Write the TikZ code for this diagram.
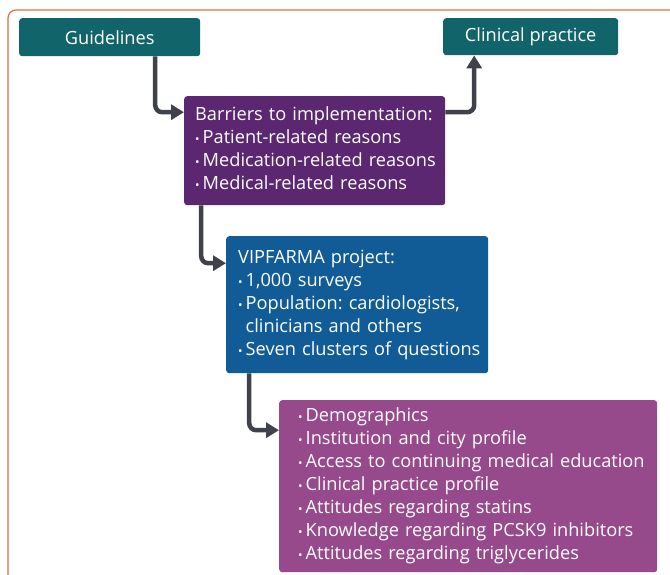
\documentclass[tikz,border=0pt]{standalone}
\usepackage{fontspec}
\setmainfont{Open Sans}
\usepackage{tikz}
\usetikzlibrary{arrows.meta}
\definecolor{frameC}{RGB}{228, 110, 60}
\definecolor{tealC}{RGB}{17, 100, 106}
\definecolor{plumC}{RGB}{91, 39, 112}
\definecolor{blueC}{RGB}{17, 92, 150}
\definecolor{mauveC}{RGB}{150, 74, 140}
\definecolor{linkC}{RGB}{64, 66, 75}
\newcommand{\bul}{{\fontsize{12}{12}\selectfont\textbullet}\kern3pt}
\frenchspacing

\begin{document}
\begin{tikzpicture}[
  x=1pt, y=-1pt,
  box/.style={rounded corners=3pt, text=white, anchor=north west,
              font=\fontsize{18.2}{23}\selectfont, inner ysep=0pt},
  listbox/.style={box, inner xsep=0pt, align=left},
  conn/.style={draw=linkC, line width=4.5pt, rounded corners=7pt,
               -{Triangle[length=13pt, width=15pt]}}
]
  \useasboundingbox (0,0) rectangle (670,574);
  \draw[frameC, line width=1.2pt, rounded corners=8pt] (8,10) rectangle (700,610);

  \node[box, fill=tealC, minimum width=181pt, minimum height=38pt, align=center] (guide)
    at (19,18) {Guidelines};
  \node[box, fill=tealC, minimum width=175pt, minimum height=37pt, align=center] (clin)
    at (443,18) {Clinical practice};
  \node[listbox, fill=plumC, text width=261pt, minimum height=109pt] (barr)
    at (184,96) {\hspace*{11pt}\begin{tabular}{@{}l@{}}
      Barriers to implementation:\\
      \bul Patient-related reasons\\
      \bul Medication-related reasons\\
      \bul Medical-related reasons\end{tabular}};
  \node[listbox, fill=blueC, text width=262pt, minimum height=137pt] (vip)
    at (226,236) {\hspace*{12pt}\begin{tabular}{@{}l@{}}
      VIPFARMA project:\\
      \bul 1,000 surveys\\
      \bul Population: cardiologists,\\
      \phantom{\bul}clinicians and others\\
      \bul Seven clusters of questions\end{tabular}};
  \node[listbox, fill=mauveC, text width=378pt, minimum height=172pt] (clus)
    at (279,400) {\hspace*{19pt}\begin{tabular}{@{}l@{}}
      \bul Demographics\\
      \bul Institution and city profile\\
      \bul Access to continuing medical education\\
      \bul Clinical practice profile\\
      \bul Attitudes regarding statins\\
      \bul Knowledge regarding PCSK9 inhibitors\\
      \bul Attitudes regarding triglycerides\end{tabular}};

  \draw[conn] ([xshift=45.5pt]guide.south) |- ([yshift=38.5pt]barr.west);
  \draw[conn] ([yshift=38.5pt]barr.east) -| ([xshift=-56.5pt]clin.south);
  \draw[conn] ([xshift=-113.5pt]barr.south) |- ([yshift=41.5pt]vip.west);
  \draw[conn] ([xshift=-108pt]vip.south) |- ([yshift=56pt]clus.west);
\end{tikzpicture}
\end{document}
